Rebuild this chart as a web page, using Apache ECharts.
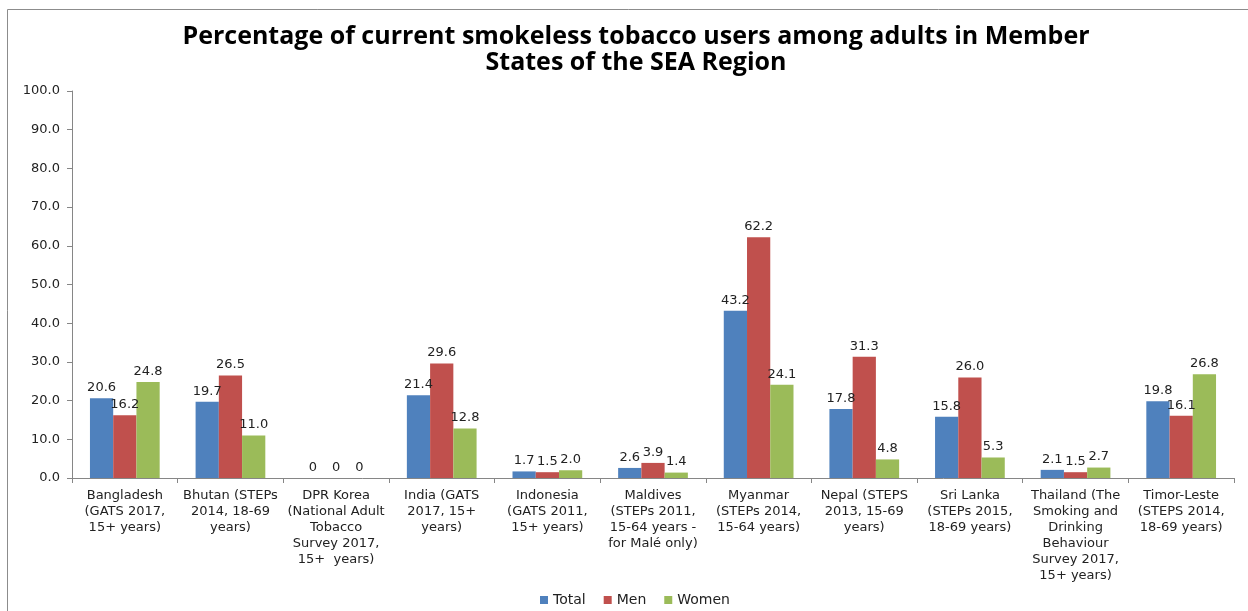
<!DOCTYPE html>
<html>
<head>
<meta charset="utf-8">
<script src="https://cdn.jsdelivr.net/npm/echarts@6/dist/echarts.min.js"></script>
<style>
html,body{margin:0;padding:0;background:#fff;}
#chart{width:1248px;height:611px;}
</style>
</head>
<body>
<div id="chart"></div>
<script>
const categories = [
  "Bangladesh\n(GATS 2017,\n15+ years)",
  "Bhutan (STEPs\n2014, 18-69\nyears)",
  "DPR Korea\n(National Adult\nTobacco\nSurvey 2017,\n15+  years)",
  "India (GATS\n2017, 15+\nyears)",
  "Indonesia\n(GATS 2011,\n15+ years)",
  "Maldives\n(STEPs 2011,\n15-64 years -\nfor Malé only)",
  "Myanmar\n(STEPs 2014,\n15-64 years)",
  "Nepal (STEPS\n2013, 15-69\nyears)",
  "Sri Lanka\n(STEPs 2015,\n18-69 years)",
  "Thailand (The\nSmoking and\nDrinking\nBehaviour\nSurvey 2017,\n15+ years)",
  "Timor-Leste\n(STEPS 2014,\n18-69 years)"
];
const total = [20.6, 19.7, 0, 21.4, 1.7, 2.6, 43.2, 17.8, 15.8, 2.1, 19.8];
const men   = [16.2, 26.5, 0, 29.6, 1.5, 3.9, 62.2, 31.3, 26.0, 1.5, 16.1];
const women = [24.8, 11.0, 0, 12.8, 2.0, 1.4, 24.1, 4.8, 5.3, 2.7, 26.8];
const seriesNames = ["Total", "Men", "Women"];
const titleText = "Percentage of current smokeless tobacco users among adults in Member\nStates of the SEA Region";

const font = "DejaVu Sans";
const colors = ["#4F81BD", "#C0504D", "#9BBB59"];
const labelCfg = {
  show: true, position: "top", distance: 4,
  fontFamily: font, fontSize: 13, color: "#222",
  formatter: p => p.value === 0 ? "0" : p.value.toFixed(1)
};
function mk(name, data, i) {
  return {
    name, type: "bar", data, barGap: "0%", barCategoryGap: "34%",
    itemStyle: { color: colors[i] }, label: labelCfg
  };
}
const chart = echarts.init(document.getElementById("chart"), null, {renderer: "canvas"});
chart.setOption({
  animation: false,
  backgroundColor: "#fff",
  color: colors,
  title: {
    text: titleText, left: 631, textAlign: "center", top: 19,
    textStyle: { fontFamily: "Open Sans", fontWeight: "bold", fontSize: 25, lineHeight: 26, color: "#000" }
  },
  graphic: [{
    type: "rect", shape: { x: 7.5, y: 9.5, width: 1300, height: 700 },
    style: { fill: "none", stroke: "#8c8c8c", lineWidth: 1 }, silent: true
  }],
  legend: {
    top: 588, left: 535, icon: "rect", itemWidth: 8, itemHeight: 8, itemGap: 18,
    textStyle: { fontFamily: font, fontSize: 14, color: "#222" },
    data: seriesNames
  },
  grid: { left: 72, right: 14, top: 91, bottom: 133, containLabel: false },
  xAxis: {
    type: "category", data: categories,
    axisLine: { lineStyle: { color: "#868686" } },
    axisTick: { show: true, length: 5, lineStyle: { color: "#868686" } },
    axisLabel: { interval: 0, fontFamily: font, fontSize: 13, lineHeight: 16, color: "#222", margin: 10 }
  },
  yAxis: {
    type: "value", min: 0, max: 100, interval: 10,
    axisLine: { show: true, lineStyle: { color: "#868686" } },
    axisTick: { show: true, length: 5, lineStyle: { color: "#868686" } },
    splitLine: { show: false },
    axisLabel: { fontFamily: font, fontSize: 13, color: "#222", margin: 12, formatter: v => v.toFixed(1) }
  },
  series: [mk(seriesNames[0], total, 0), mk(seriesNames[1], men, 1), mk(seriesNames[2], women, 2)]
});
</script>
</body>
</html>
